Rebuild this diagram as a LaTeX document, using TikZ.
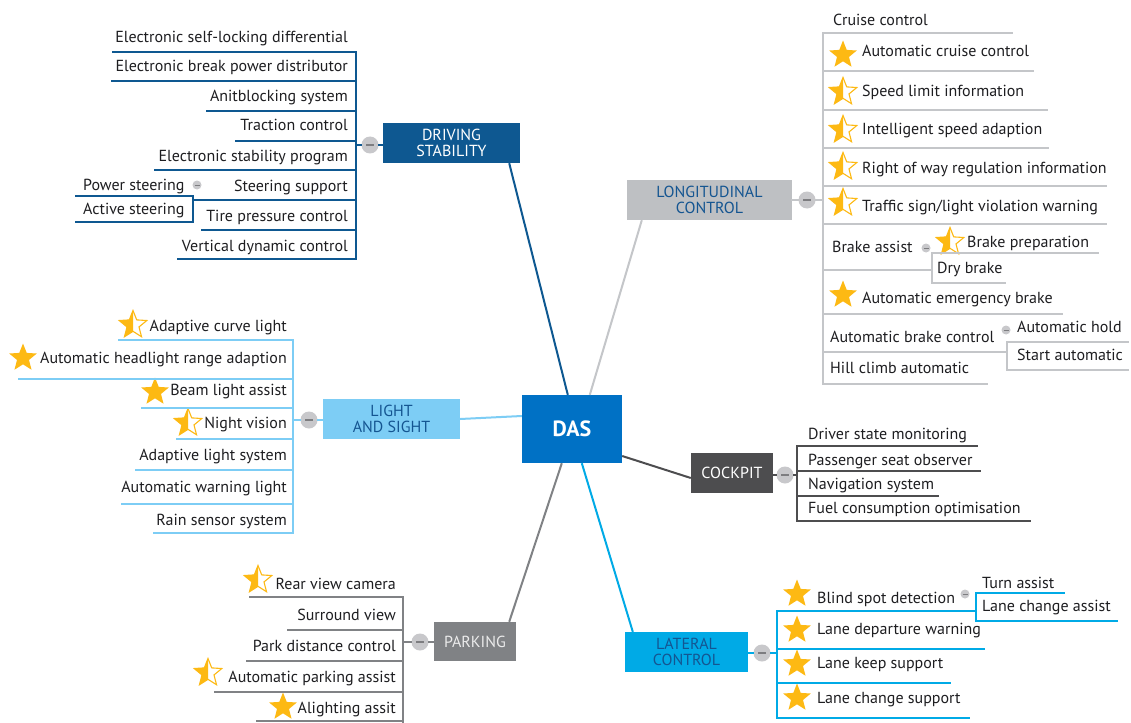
\documentclass[tikz,border=0pt]{standalone}
\usepackage{fontspec}
\setmainfont{PT Sans}
\usetikzlibrary{shapes.geometric,calc}
\definecolor{dasblue}{RGB}{0,113,197}
\definecolor{dsblue}{RGB}{14,88,145}
\definecolor{lcbox}{RGB}{190,192,195}
\definecolor{lcline}{RGB}{196,198,201}
\definecolor{liblue}{RGB}{125,205,245}
\definecolor{lablue}{RGB}{0,170,230}
\definecolor{ckgray}{RGB}{77,77,79}
\definecolor{pkgray}{RGB}{128,130,133}
\definecolor{starY}{RGB}{253,185,19}
\definecolor{boxtxt}{RGB}{20,85,145}
\definecolor{itemtxt}{RGB}{30,30,33}
\definecolor{mgray}{RGB}{200,200,203}
\definecolor{mdark}{RGB}{125,125,128}
\colorlet{brc}{black}
\tikzset{
 itm/.style={font=\fontsize{16}{19}\selectfont, text=itemtxt, inner sep=0pt},
 ul/.style={draw=brc, line width=1.8pt, line cap=rect},
 conn/.style={line width=2pt},
 topic/.style={inner sep=0pt, align=center, font=\fontsize{16}{16}\selectfont},
 fstar/.style={star, star points=5, star point ratio=2.3, minimum size=29pt, inner sep=0pt, fill=starY, draw=none},
 hstar/.style={star, star points=5, star point ratio=2.3, minimum size=29pt, inner sep=0pt, fill=white, draw=starY, line width=1.1pt},
 mcirc/.style={circle, fill=mgray, minimum size=17pt, inner sep=0pt},
 scirc/.style={circle, fill=mgray, minimum size=9pt, inner sep=0pt},
 mline/.style={draw=mdark, line width=1.1pt}
}
\newcommand\RItem[6]{%
  \node[itm,anchor=base west] (#1) at (#2,#3+5) {#4};
  \draw[ul] (\spx,#5) -- (#6,#5);}
\newcommand\LItem[6]{%
  \node[itm,anchor=base east] (#1) at (#2,#3+5) {#4};
  \draw[ul] (#6,#5) -- (\spx,#5);}
\newcommand\FS[2]{\node[fstar] (#1) at (#2) {};}
\newcommand\HS[2]{\node[hstar] (#1) at (#2) {};
  \begin{scope}\clip ($(#1.center)+(-17,-17)$) rectangle ($(#1.center)+(0,17)$);
  \node[fstar] at (#1.center) {};\end{scope}}
\newcommand\MC[2]{\node[mcirc] (#1) at (#2) {};
  \draw[mline] ([xshift=-4pt]#1.center) -- ([xshift=4pt]#1.center);}
\newcommand\SC[2]{\node[scirc] (#1) at (#2) {};
  \draw[draw=mdark, line width=0.8pt] ([xshift=-2.5pt]#1.center) -- ([xshift=2.5pt]#1.center);}
\begin{document}
\begin{tikzpicture}[x=1pt,y=-1pt]
\fill[white] (0,0) rectangle (1131,722);
\useasboundingbox (0,0) rectangle (1131,722);

% ---------------- central node
\node[topic, fill=dasblue, text=white, minimum width=100pt, minimum height=68pt,
  font=\fontsize{22}{24}\selectfont\bfseries] (das) at (572,429) {DAS};

% ---------------- topic boxes
\node[topic, fill=dsblue, text=white, minimum width=137pt, minimum height=40pt] (ds) at (451.5,143) {DRIVING\\STABILITY};
\node[topic, fill=lcbox, text=boxtxt, minimum width=165pt, minimum height=40pt] (lc) at (709.5,200) {LONGITUDINAL\\CONTROL};
\node[topic, fill=liblue, text=boxtxt, minimum width=137pt, minimum height=40pt] (li) at (391.5,419) {LIGHT\\AND SIGHT};
\node[topic, fill=ckgray, text=white, minimum width=82pt, minimum height=40pt] (ck) at (732,473) {COCKPIT};
\node[topic, fill=pkgray, text=white!92!black, minimum width=82pt, minimum height=39pt] (pk) at (475,641.5) {PARKING};
\node[topic, fill=lablue, text=boxtxt, minimum width=123pt, minimum height=40pt] (la) at (686.5,652) {LATERAL\\CONTROL};

% ---------------- main connectors
\draw[conn, dsblue] ([xshift=-11pt]ds.south east) -- ([xshift=46pt]das.north west);
\draw[conn, lcline] ([xshift=15pt]lc.south west) -- ([xshift=68pt]das.north west);
\draw[conn, liblue] (li.east) -- ([yshift=13pt]das.west);
\draw[conn, ckgray] ([yshift=-27pt]das.east) -- ([yshift=-5pt]ck.west);
\draw[conn, pkgray] ([xshift=-7pt]pk.north east) -- ([xshift=40pt]das.south west);
\draw[conn, lablue] ([xshift=60pt]das.south west) -- ([xshift=8pt]la.north west);

% ---------------- DRIVING STABILITY
\begin{scope}
\colorlet{brc}{dsblue}\def\spx{356}
\LItem{ds1}{348}{38}{Electronic self-locking differential}{52}{113}
\LItem{ds2}{348}{67}{Electronic break power distributor}{81}{112}
\LItem{ds3}{348}{97}{Anitblocking system}{111}{207}
\LItem{ds4}{348}{126}{Traction control}{141}{236}
\LItem{ds5}{348}{156}{Electronic stability program}{170}{155}
\LItem{ds6}{348}{186}{Steering support}{200}{193}
\LItem{ds7}{348}{216}{Tire pressure control}{230}{202}
\LItem{ds8}{348}{246}{Vertical dynamic control}{259}{178}
\draw[ul] (356,52) -- (356,259);
\node[itm, anchor=base west] (ds6a) at (83,190) {Power steering};
\node[itm, anchor=base west] (ds6b) at (83,214) {Active steering};
\draw[ul] (76,196) -- (193,196) -- (193,222) -- (76,222);
\SC{ds6m}{197,185}
\MC{dsm}{370,145}
\draw[ul] (356,145) -- (dsm);
\draw[ul] (dsm) -- (ds.west |- dsm);
\end{scope}

% ---------------- LIGHT AND SIGHT
\begin{scope}
\colorlet{brc}{liblue}\def\spx{293}
\HS{li1s}{133,325}
\FS{li2s}{23,358}
\FS{li3s}{155,392}
\HS{li4s}{188,423}
\LItem{li1}{287}{326}{Adaptive curve light}{340}{119}
\LItem{li2}{287}{358}{Automatic headlight range adaption}{379}{19}
\LItem{li3}{287}{390}{Beam light assist}{408}{142}
\LItem{li4}{287}{423}{Night vision}{439}{177}
\LItem{li5}{287}{455}{Adaptive light system}{470}{136}
\LItem{li6}{287}{487}{Automatic warning light}{504}{122}
\LItem{li7}{287}{520}{Rain sensor system}{533}{154}
\draw[ul] (293,340) -- (293,533);
\MC{lim}{309,420}
\draw[ul] (293,420) -- (lim);
\draw[ul] (lim) -- (li.west |- lim);
\end{scope}

% ---------------- PARKING
\begin{scope}
\colorlet{brc}{pkgray}\def\spx{403}
\HS{pk1s}{258,580}
\HS{pk4s}{208,673}
\FS{pk5s}{283,707}
\LItem{pk1}{396}{584}{Rear view camera}{597}{250}
\LItem{pk2}{396}{615}{Surround view}{630}{288}
\LItem{pk3}{396}{646}{Park distance control}{661}{247}
\LItem{pk4}{396}{677}{Automatic parking assist}{692}{215}
\LItem{pk5}{396}{708}{Alighting assit}{721}{257}
\draw[ul] (403,597) -- (403,722);
\MC{pkm}{420,642}
\draw[ul] (403,642) -- (pkm);
\draw[ul] (pkm) -- (pk.west |- pkm);
\end{scope}

% ---------------- LONGITUDINAL CONTROL
\begin{scope}
\colorlet{brc}{lcline}\def\spx{823}
\FS{lc2s}{843,55}
\HS{lc3s}{843,92}
\HS{lc4s}{843,130}
\HS{lc5s}{843,167}
\HS{lc6s}{843,203}
\HS{lc7s}{950,242}
\FS{lc8s}{843,295}
\RItem{lc1}{833}{21}{Cruise control}{33}{1012}
\RItem{lc2}{862}{52}{Automatic cruise control}{71}{1033}
\RItem{lc3}{862}{92}{Speed limit information}{110}{1047}
\RItem{lc4}{862}{130}{Intelligent speed adaption}{148}{1048}
\RItem{lc5}{862}{168}{Right of way regulation information}{186}{1106}
\RItem{lc6}{862}{206}{Traffic sign/light violation warning}{224}{1106}
\RItem{lc7}{832}{247}{Brake assist}{270}{932}
\node[itm, anchor=base west] (lc7a) at (967,247) {Brake preparation};
\node[itm, anchor=base west] (lc7b) at (937,273) {Dry brake};
\draw[ul] (1098,253) -- (932,253) -- (932,283) -- (1005,283);
\SC{lc7m}{926,248}
\RItem{lc8}{862}{298}{Automatic emergency brake}{314}{1062}
\RItem{lc9}{830}{337}{Automatic brake control}{352}{1007}
\node[itm, anchor=base west] (lc9a) at (1017,332) {Automatic hold};
\node[itm, anchor=base west] (lc9b) at (1017,360) {Start automatic};
\draw[ul] (1128,342) -- (1007,342) -- (1007,370) -- (1128,370);
\SC{lc9m}{1006,330}
\RItem{lc10}{830}{368}{Hill climb automatic}{384}{987}
\draw[ul] (823,33) -- (823,384);
\MC{lcm}{807,200}
\draw[ul] (823,200) -- (lcm);
\draw[ul] (lcm) -- (lc.east |- lcm);
\end{scope}

% ---------------- COCKPIT
\begin{scope}
\colorlet{brc}{ckgray}\def\spx{797}
\RItem{ck1}{808}{434}{Driver state monitoring}{446}{977}
\RItem{ck2}{808}{460}{Passenger seat observer}{471}{980}
\RItem{ck3}{808}{484}{Navigation system}{496}{938}
\RItem{ck4}{808}{508}{Fuel consumption optimisation}{521}{1030}
\draw[ul] (797,446) -- (797,521);
\MC{ckm}{785,475}
\draw[ul] (797,475) -- (ckm);
\draw[ul] (ckm) -- (ck.east |- ckm);
\end{scope}

% ---------------- LATERAL CONTROL
\begin{scope}
\colorlet{brc}{lablue}\def\spx{777}
\FS{la1s}{797,594}
\FS{la2s}{797,630}
\FS{la3s}{797,664}
\FS{la4s}{797,698}
\RItem{la1}{817}{598}{Blind spot detection}{611}{976}
\node[itm, anchor=base west] (la1a) at (982,588) {Turn assist};
\node[itm, anchor=base west] (la1b) at (982,611) {Lane change assist};
\draw[ul] (1064,593) -- (976,593) -- (976,621) -- (1117,621);
\SC{la1m}{965,594}
\RItem{la2}{817}{629}{Lane departure warning}{649}{984}
\RItem{la3}{817}{663}{Lane keep support}{683}{950}
\RItem{la4}{817}{698}{Lane change support}{718}{969}
\draw[ul] (777,611) -- (777,718);
\MC{lam}{762,653}
\draw[ul] (777,653) -- (lam);
\draw[ul] (lam) -- (la.east |- lam);
\end{scope}
\end{tikzpicture}
\end{document}
